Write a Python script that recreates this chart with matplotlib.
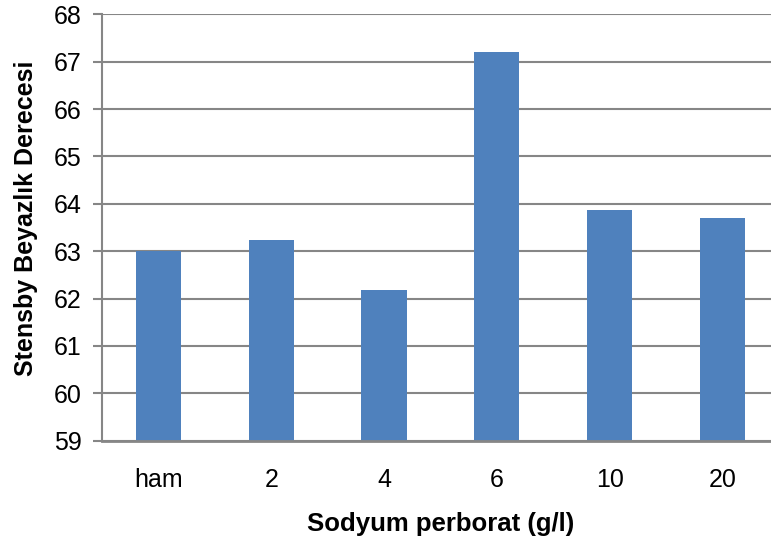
import matplotlib.pyplot as plt

categories = ['ham', '2', '4', '6', '10', '20']
values = [63.0, 63.24, 62.18, 67.21, 63.87, 63.70]
yticks = [59, 60, 61, 62, 63, 64, 65, 66, 67, 68]

plt.rcParams['font.family'] = ['Liberation Sans', 'DejaVu Sans']

fig = plt.figure(figsize=(7.71, 5.44), dpi=100)
ax = fig.add_axes([0.1323, 0.190, 0.878, 0.7837])

x = range(len(categories))
ax.bar(x, values, width=0.4, bottom=0, color='#4F81BD', zorder=3)

ax.set_ylim(59, 68)
ax.set_xlim(-0.5, len(categories) - 0.5)
ax.set_yticks(yticks)
ax.set_xticks(list(x))
ax.set_xticklabels(categories)

ax.grid(True, axis='y', color='#868686', linewidth=1.5, zorder=0)
for side in ['top', 'right', 'bottom']:
    ax.spines[side].set_visible(False)
ax.spines['left'].set_color('#868686')
ax.spines['left'].set_linewidth(1.5)
ax.axhline(59, color='#868686', linewidth=2, zorder=4, clip_on=False)

ax.tick_params(axis='y', length=6.5, width=1.5, color='#868686', labelsize=18, pad=8)
ax.tick_params(axis='x', length=0, labelsize=18, pad=20)

ax.set_ylabel('Stensby Beyazlık Derecesi', fontsize=18, fontweight='bold')
ax.set_xlabel('Sodyum perborat (g/l)', fontsize=18.5, fontweight='bold')
ax.yaxis.set_label_coords(-0.094, 0.522)
ax.xaxis.set_label_coords(0.5, -0.168)

fig.savefig('out.png', dpi=100)
